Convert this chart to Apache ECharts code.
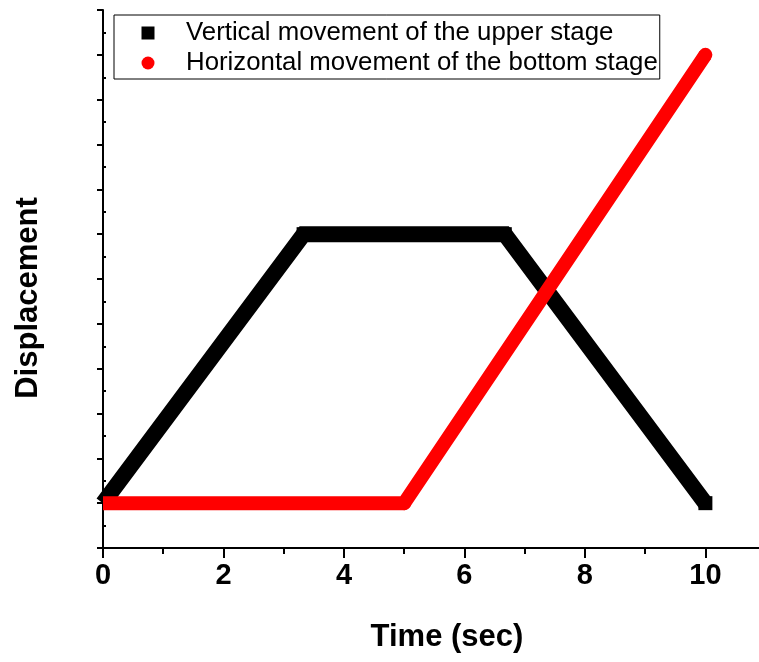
<!DOCTYPE html>
<html>
<head>
<meta charset="utf-8">
<script src="https://cdn.jsdelivr.net/npm/echarts@6/dist/echarts.min.js"></script>
<style>
  html, body { margin: 0; padding: 0; background: #ffffff; }
  #chart { width: 759px; height: 662px; }
</style>
</head>
<body>
<div id="chart"></div>
<script>
// Stage motion profiles (time in seconds, displacement in arbitrary units)
const timeUpper = [0, 3.33, 6.67, 10];
const dispUpper = [0, 6, 6, 0];
const timeBottom = [0, 5, 10];
const dispBottom = [0, 0, 10];

const seriesNames = [
  'Vertical movement of the upper stage',
  'Horizontal movement of the bottom stage'
];

// Tick positions
const xMajorTicks = [0, 2, 4, 6, 8, 10];
const xMinorTicks = [1, 3, 5, 7, 9];
const yMinorTicks = [-0.5, 0.5, 1.5, 2.5, 3.5, 4.5, 5.5, 6.5, 7.5, 8.5, 9.5, 10.5];

const FONT = 'Liberation Sans, Arial, Helvetica, sans-serif';

const zip = (xs, ys) => xs.map((x, i) => [x, ys[i]]);
const upperPts = zip(timeUpper, dispUpper);
const bottomPts = zip(timeBottom, dispBottom);

// Markers sitting on the y axis are cut off by the plot frame, so hide them there
const markerSize = (val) => (val[0] <= 0 ? 0 : 14);

const chart = echarts.init(document.getElementById('chart'), null, { renderer: 'canvas' });

chart.setOption({
  animation: false,
  backgroundColor: '#ffffff',
  grid: { left: 103, right: 0, top: 10, bottom: 114, containLabel: false },
  legend: {
    orient: 'vertical',
    left: 114,
    top: 15,
    selectedMode: false,
    data: [
      { name: seriesNames[0], icon: 'rect' },
      { name: seriesNames[1], icon: 'circle' }
    ],
    itemWidth: 13,
    itemHeight: 13,
    itemGap: 4,
    padding: [5, 2, 3, 27.5],
    borderColor: '#000000',
    borderWidth: 1,
    textStyle: {
      fontFamily: FONT,
      fontSize: 25.8,
      lineHeight: 26,
      color: '#000000',
      padding: [0, 0, 0, 26.5]
    }
  },
  xAxis: [
    {
      type: 'value',
      position: 'bottom',
      min: 0,
      max: 10.89,
      splitLine: { show: false },
      axisLine: { onZero: false, lineStyle: { color: '#000000', width: 2 } },
      axisTick: { customValues: xMajorTicks, length: 10, lineStyle: { color: '#000000', width: 2 } },
      axisLabel: {
        customValues: xMajorTicks,
        margin: 13,
        fontFamily: FONT,
        fontSize: 29,
        fontWeight: 'bold',
        color: '#000000'
      },
      name: 'Time (sec)',
      nameLocation: 'middle',
      nameGap: 74,
      nameTextStyle: {
        fontFamily: FONT,
        fontSize: 31,
        fontWeight: 'bold',
        color: '#000000',
        padding: [0, 0, 0, 32]
      }
    },
    {
      type: 'value',
      position: 'bottom',
      min: 0,
      max: 10.89,
      splitLine: { show: false },
      axisLine: { show: false, onZero: false },
      axisTick: { customValues: xMinorTicks, length: 6, lineStyle: { color: '#000000', width: 2 } },
      axisLabel: { show: false }
    }
  ],
  yAxis: [
    {
      type: 'value',
      position: 'left',
      min: -1,
      max: 11,
      interval: 1,
      splitLine: { show: false },
      axisLine: { onZero: false, lineStyle: { color: '#000000', width: 2 } },
      axisTick: { length: 6, lineStyle: { color: '#000000', width: 2 } },
      axisLabel: { show: false },
      name: 'Displacement',
      nameLocation: 'middle',
      nameRotate: 90,
      nameGap: 59,
      nameTextStyle: {
        fontFamily: FONT,
        fontSize: 31,
        fontWeight: 'bold',
        color: '#000000',
        padding: [0, 38, 0, 0]
      }
    },
    {
      type: 'value',
      position: 'left',
      min: -1,
      max: 11,
      splitLine: { show: false },
      axisLine: { show: false, onZero: false },
      axisTick: { inside: true, customValues: yMinorTicks, length: 3, lineStyle: { color: '#000000', width: 2 } },
      axisLabel: { show: false }
    }
  ],
  series: [
    {
      name: 'upperPath',
      type: 'line',
      data: upperPts,
      symbol: 'none',
      silent: true,
      clip: true,
      z: 2,
      lineStyle: { color: '#000000', width: 16, join: 'miter' }
    },
    {
      name: seriesNames[0],
      type: 'scatter',
      data: upperPts,
      symbol: 'rect',
      symbolSize: markerSize,
      z: 3,
      itemStyle: { color: '#000000', opacity: 1 }
    },
    {
      name: 'bottomPath',
      type: 'line',
      data: bottomPts,
      symbol: 'none',
      silent: true,
      clip: true,
      z: 4,
      lineStyle: { color: '#ff0000', width: 14, cap: 'butt', join: 'round' }
    },
    {
      name: seriesNames[1],
      type: 'scatter',
      data: bottomPts,
      symbol: 'circle',
      symbolSize: markerSize,
      z: 5,
      itemStyle: { color: '#ff0000', opacity: 1 }
    }
  ]
});
</script>
</body>
</html>
